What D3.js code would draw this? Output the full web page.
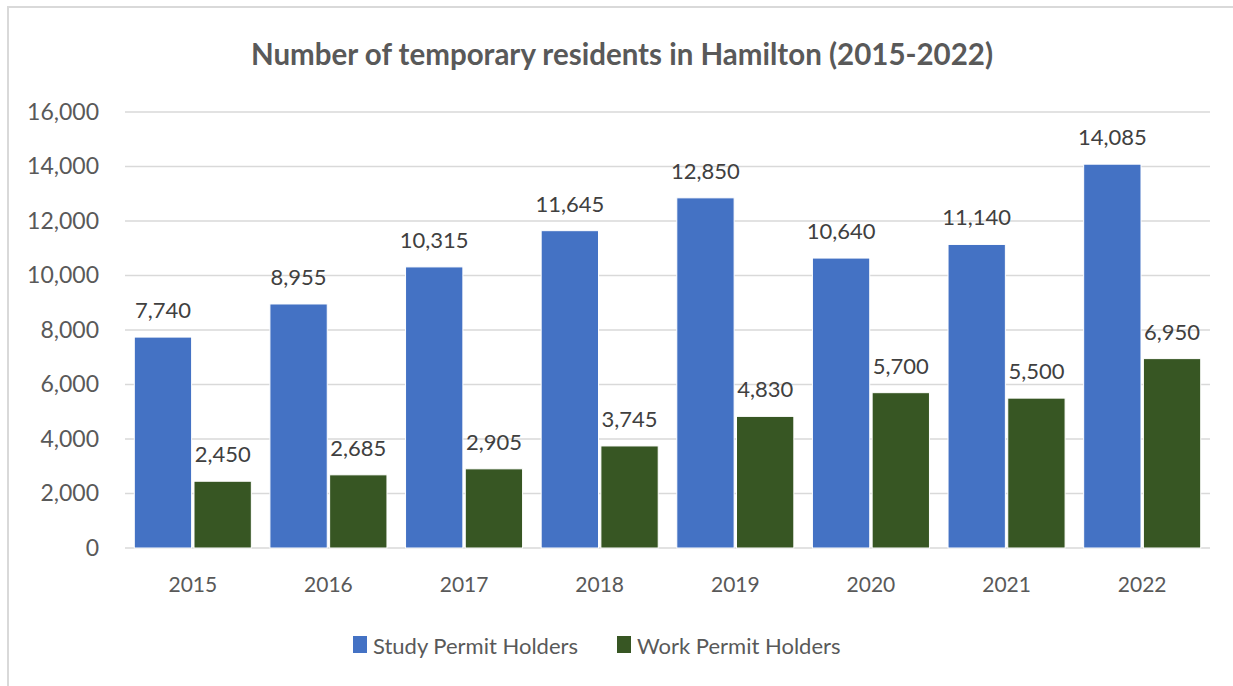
<!DOCTYPE html>
<html><head><meta charset="utf-8">
<script src="https://cdn.jsdelivr.net/npm/d3@7/dist/d3.min.js"></script>
<style>
html,body{margin:0;padding:0;background:#fff;}
svg{display:block;}
text{font-family:Lato,"Open Sans",sans-serif;}
</style></head>
<body><svg id="c" width="1233" height="686"></svg>
<script>
const years = ["2015","2016","2017","2018","2019","2020","2021","2022"];
const seriesNames = ["Study Permit Holders","Work Permit Holders"];
const studyPermit = [7740, 8955, 10315, 11645, 12850, 10640, 11140, 14085];
const workPermit = [2450, 2685, 2905, 3745, 4830, 5700, 5500, 6950];
const yTicks = [0,2000,4000,6000,8000,10000,12000,14000,16000];
const colors = ["#4472C4","#375623"];
const title = "Number of temporary residents in Hamilton (2015-2022)";

(function(){
const svg = d3.select("#c");
// chart border
svg.append("rect").attr("x",8).attr("y",7).attr("width",1260).attr("height",700)
  .attr("fill","none").attr("stroke","#d9d9d9").attr("stroke-width",2);

const pl=125, pr=1210, pt=112, pb=548;
const x = d3.scaleBand().domain(years).range([pl,pr]).paddingInner(0.137).paddingOuter(0.0685);
const x1 = d3.scaleBand().domain(seriesNames).range([0,x.bandwidth()]).paddingInner(0.04);
const y = d3.scaleLinear().domain([0,16000]).range([pb,pt]);
const fmt = d3.format(",");

// gridlines
svg.append("g").selectAll("line").data(yTicks).join("line")
  .attr("x1",pl).attr("x2",pr)
  .attr("y1",d=>y(d)).attr("y2",d=>y(d))
  .attr("stroke","#d9d9d9").attr("stroke-width",1.5);

// y axis labels
const yAxis = d3.axisLeft(y).tickValues(yTicks).tickFormat(fmt).tickSize(0).tickPadding(0);
const ga = svg.append("g").attr("transform",`translate(99,0)`).call(yAxis);
ga.select(".domain").remove();
ga.selectAll("text").attr("font-size",23).attr("fill","#595959").attr("font-family","Lato");

// x axis labels
const xAxis = d3.axisBottom(x).tickSize(0).tickPadding(0);
const gx = svg.append("g").attr("transform",`translate(0,577)`).call(xAxis);
gx.select(".domain").remove();
gx.selectAll("text").attr("font-size",21).attr("fill","#595959").attr("font-family","Lato").attr("dy","0.71em");

const data = years.map((yr,i)=>({year:yr, vals:[studyPermit[i], workPermit[i]]}));
const groups = svg.append("g").selectAll("g").data(data).join("g")
  .attr("transform",d=>`translate(${x(d.year)},0)`);
groups.selectAll("rect").data(d=>d.vals.map((v,k)=>({k,v}))).join("rect")
  .attr("x",d=>x1(seriesNames[d.k]))
  .attr("width",x1.bandwidth())
  .attr("y",d=>y(d.v))
  .attr("height",d=>y(0)-y(d.v))
  .attr("fill",d=>colors[d.k])
  .attr("stroke","#ffffff").attr("stroke-width",1);
groups.selectAll("text").data(d=>d.vals.map((v,k)=>({k,v}))).join("text")
  .attr("x",d=>x1(seriesNames[d.k])+x1.bandwidth()/2)
  .attr("y",d=>y(d.v)-19)
  .attr("text-anchor","middle")
  .attr("font-size",22).attr("fill","#404040")
  .text(d=>fmt(d.v));

// title
svg.append("text").attr("x",622).attr("y",65).attr("text-anchor","middle")
  .attr("font-size",29.5).attr("font-weight","bold").attr("fill","#595959")
  .text(title);

// legend
const legX = [353, 617];
const lg = svg.append("g").selectAll("g").data(seriesNames).join("g")
  .attr("transform",(d,i)=>`translate(${legX[i]},636)`);
lg.append("rect").attr("width",14).attr("height",17).attr("fill",(d,i)=>colors[i]);
lg.append("text").attr("x",20).attr("y",18).attr("font-size",22).attr("fill","#595959").text(d=>d);
})();
</script></body></html>
